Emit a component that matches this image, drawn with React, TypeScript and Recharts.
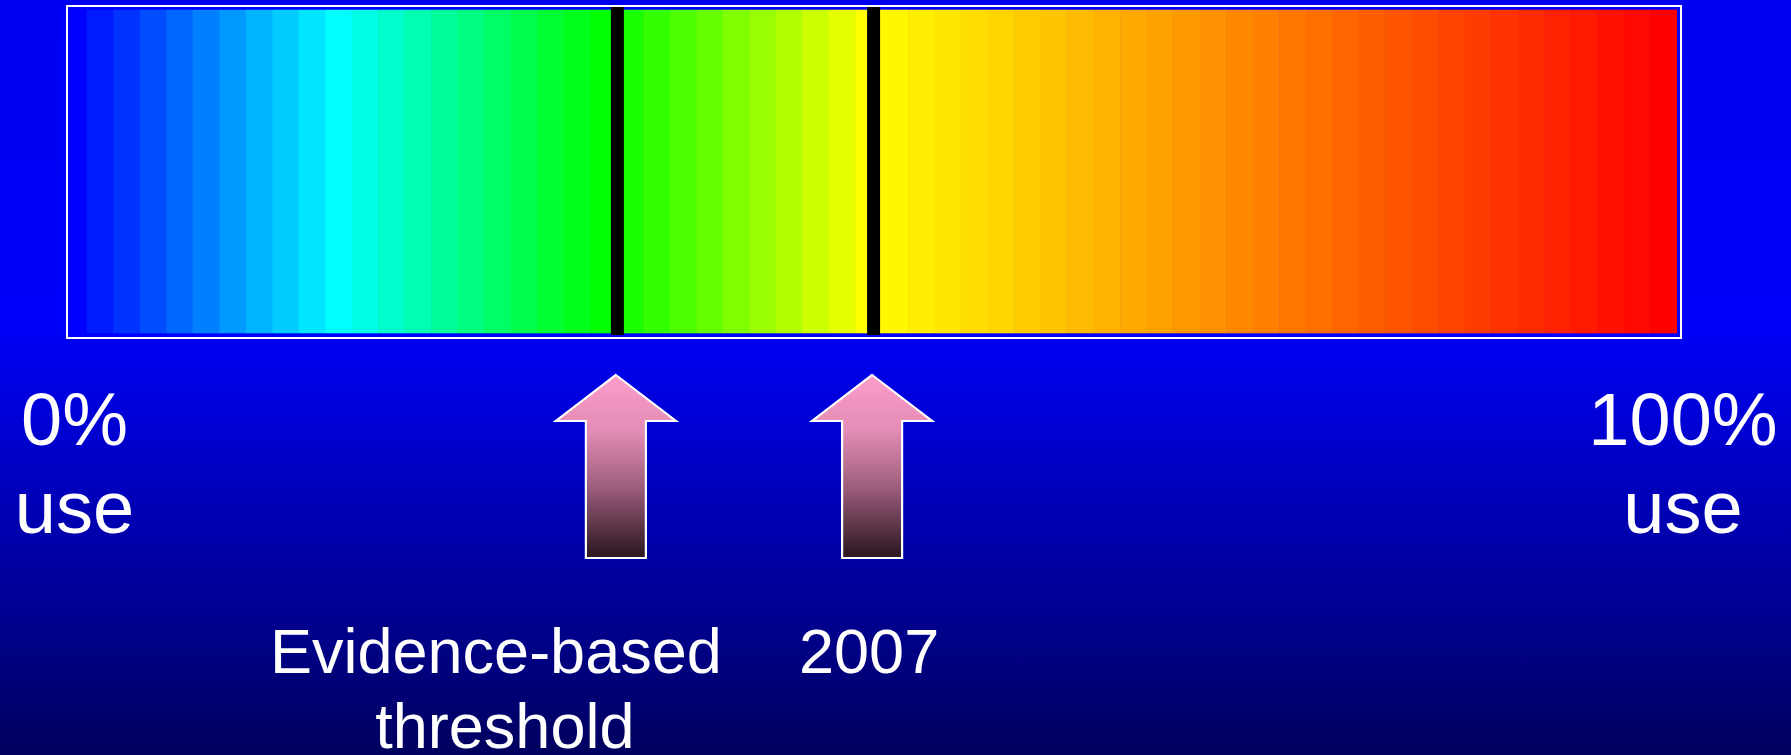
import React from 'react';
import { BarChart, Bar, XAxis, YAxis, ReferenceLine } from 'recharts';

// ---- data ----
const bandColors = [
  '#0000ff', '#001aff', '#0033ff', '#004dff', '#0066ff', '#0080ff', '#0099ff', '#00b3ff', '#00ccff', '#00e6ff',
  '#00ffff', '#00ffe6', '#00ffcc', '#00ffb3', '#00ff99', '#00ff80', '#00ff66', '#00ff4d', '#00ff33', '#00ff1a',
  '#00ff00', '#1aff00', '#33ff00', '#4dff00', '#66ff00', '#80ff00', '#99ff00', '#b3ff00', '#ccff00', '#e6ff00',
  '#ffff00', '#fff700', '#ffee00', '#ffe600', '#ffdd00', '#ffd500', '#ffcc00', '#ffc400', '#ffbb00', '#ffb300',
  '#ffaa00', '#ffa200', '#ff9900', '#ff9100', '#ff8800', '#ff8000', '#ff7700', '#ff6f00', '#ff6600', '#ff5e00',
  '#ff5500', '#ff4d00', '#ff4400', '#ff3c00', '#ff3300', '#ff2b00', '#ff2200', '#ff1a00', '#ff1100', '#ff0900',
  '#ff0000',
];
const bandKeys = bandColors.map((_, i) => `b${i}`);
const bandShare = 100 / bandColors.length; // each colour band is an equal share of the 0–100% scale

const scaleTicks = [0, 100];
const scaleTickLabels = ['0%', '100%'];
const scaleTickSubLabels = ['use', 'use'];

const markerValues = [34.45, 50.3];
const markerLabels = [['Evidence-based', 'threshold'], ['2007']];

// ---- layout / style ----
const W = 1791;
const H = 755;
const FONT = '"Liberation Sans", Arial, Helvetica, sans-serif';
const tickDx = [14, 6];
const markerLineDx = [[-120, -111], [-3]];

const chartRow: Record<string, any> = { name: 'use' };
bandKeys.forEach((k) => {
  chartRow[k] = bandShare;
});
const chartData = [chartRow];

const EndTick = (props: any) => {
  const { x, y, payload } = props;
  const i = scaleTicks.indexOf(payload.value);
  if (i < 0) return null;
  const cx = x + tickDx[i];
  return (
    <g>
      <text x={cx} y={y + 112} textAnchor="middle" fill="#ffffff" fontSize={74} fontFamily={FONT}>
        {scaleTickLabels[i]}
      </text>
      <text x={cx} y={y + 200} textAnchor="middle" fill="#ffffff" fontSize={74} fontFamily={FONT}>
        {scaleTickSubLabels[i]}
      </text>
    </g>
  );
};

const MarkerLabel = (props: any) => {
  const { viewBox, index } = props;
  if (!viewBox) return null;
  const cx = viewBox.x - 1.5;
  const base = viewBox.y + viewBox.height;
  const tip = base + 42;
  const headBase = base + 88;
  const bottom = base + 225;
  const gid = `arrowGrad${index}`;
  const pts = [
    [cx, tip],
    [cx + 60, headBase],
    [cx + 30, headBase],
    [cx + 30, bottom],
    [cx - 30, bottom],
    [cx - 30, headBase],
    [cx - 60, headBase],
  ]
    .map((p) => p.join(','))
    .join(' ');
  const lines = markerLabels[index];
  return (
    <g>
      <defs>
        <linearGradient id={gid} x1="0" y1="0" x2="0" y2="1">
          <stop offset="0%" stopColor="#fa9cca" />
          <stop offset="30%" stopColor="#e48db6" />
          <stop offset="60%" stopColor="#a0607f" />
          <stop offset="100%" stopColor="#28161e" />
        </linearGradient>
      </defs>
      <polygon points={pts} fill={`url(#${gid})`} stroke="#ffffff" strokeWidth={2.2} strokeLinejoin="miter" />
      {lines.map((t, li) => (
        <text
          key={li}
          x={cx + markerLineDx[index][li]}
          y={base + 340 + li * 75}
          textAnchor="middle"
          fill="#ffffff"
          fontSize={63}
          fontFamily={FONT}
        >
          {t}
        </text>
      ))}
    </g>
  );
};

const markerShape = (p: any) => {
  const top = Math.min(p.y1, p.y2);
  const bot = Math.max(p.y1, p.y2);
  return <line x1={p.x1} x2={p.x2} y1={top - 4} y2={bot + 2} stroke="#000000" strokeWidth={13} />;
};

export default function App() {
  return (
    <div
      style={{
        position: 'absolute',
        left: 0,
        top: 0,
        width: W,
        height: H,
        overflow: 'hidden',
        background: 'linear-gradient(to bottom, #0000f0 0%, #0000fa 42%, #00005e 100%)',
      }}
    >
      <div
        style={{
          position: 'absolute',
          left: 66,
          top: 5,
          width: 1616,
          height: 334,
          background: '#0000ff',
        }}
      />
      <div style={{ position: 'absolute', left: 0, top: 0 }}>
        <BarChart
          width={W}
          height={H}
          data={chartData}
          layout="vertical"
          margin={{ top: 10, left: 60.5, right: 114, bottom: 421 }}
          barCategoryGap={0}
          barGap={0}
        >
          <XAxis
            type="number"
            domain={[0, 100]}
            ticks={scaleTicks}
            interval={0}
            tick={<EndTick />}
            tickSize={0}
            tickMargin={0}
            axisLine={false}
            tickLine={false}
            height={1}
            allowDataOverflow
          />
          <YAxis type="category" dataKey="name" hide />
          {bandKeys.map((k, i) => (
            <Bar
              key={k}
              dataKey={k}
              stackId="scale"
              fill={bandColors[i]}
              stroke={bandColors[i]}
              strokeWidth={0.6}
              isAnimationActive={false}
            />
          ))}
          {markerValues.map((v, i) => (
            <ReferenceLine
              key={i}
              x={v}
              stroke="#000000"
              strokeWidth={13}
              ifOverflow="visible"
              shape={markerShape}
              label={<MarkerLabel index={i} />}
            />
          ))}
        </BarChart>
      </div>
      <div
        style={{
          position: 'absolute',
          left: 66,
          top: 5,
          width: 1616,
          height: 334,
          border: '2px solid #ffffff',
          boxSizing: 'border-box',
          pointerEvents: 'none',
        }}
      />
    </div>
  );
}
